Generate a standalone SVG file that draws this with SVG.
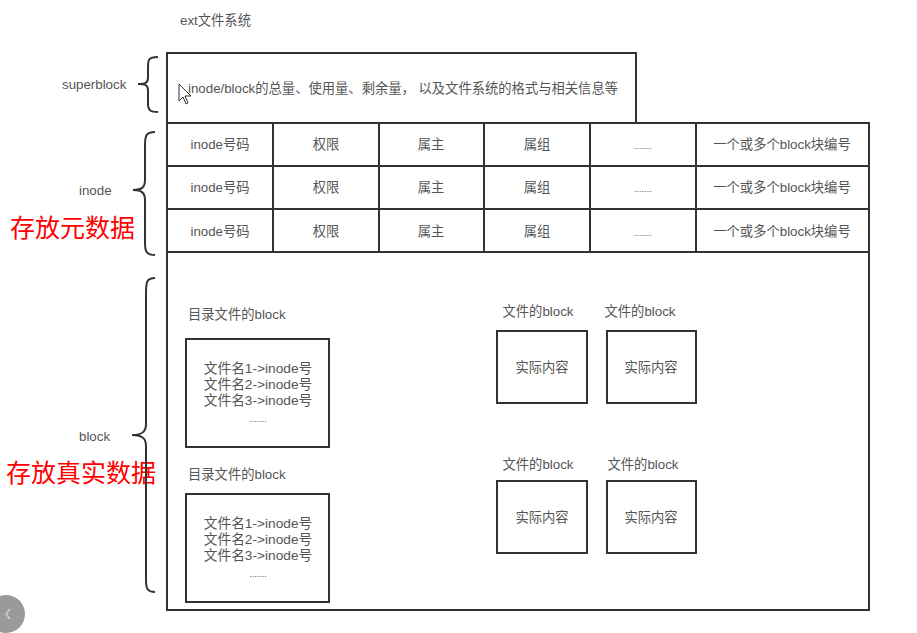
<svg xmlns="http://www.w3.org/2000/svg" width="917" height="633" viewBox="0 0 917 633">
<style>
.t{font-family:"Liberation Sans","Noto Sans CJK SC",sans-serif;font-size:13.3px;fill:#555;}
.c{text-anchor:middle;}
.d{font-size:13.7px;}
.box{fill:#fff;stroke:#333;stroke-width:2;}
.ln{stroke:#333;stroke-width:2;fill:none;}
.br{stroke:#333;stroke-width:2;fill:none;}
.red{font-family:"Noto Sans CJK SC",sans-serif;font-size:25px;fill:#f00;}
</style>
<rect width="917" height="633" fill="#fff"/>
<text class="t" x="180" y="25">ext文件系统</text>

<g id="labels">
<text class="t" x="62" y="89">superblock</text>
<text class="t" x="79" y="195">inode</text>
<text class="t" x="79" y="441">block</text>
<text class="red" x="10" y="237">存放元数据</text>
<text class="red" x="6" y="482">存放真实数据</text>
</g>

<g id="braces">
<path class="br" d="M158,57 C148,57 148,60 148,68 L148,78 C148,83 145,84 138,84 C145,84 148,85 148,90 L148,104 C148,110 150,112 158,112"/>
<path class="br" d="M155,132 C146,132 145,136 145,145 L145,180 C145,187 142,190 133,190 C142,190 145,193 145,200 L145,243 C145,251 146,255 155,255"/>
<path class="br" d="M155,278 C147,278 146,282 146,292 L146,424 C146,431 143,435 132,435 C143,435 146,439 146,446 L146,580 C146,588 147,592 155,592"/>
</g>

<g id="superblock">
<rect class="box" x="167" y="53" width="469" height="70"/>
<text class="t" x="188" y="93">inode/block的总量、使用量、剩余量， 以及文件系统的格式与相关信息等</text>
</g>

<g id="inode-table">
<rect class="box" x="167" y="123" width="702" height="129"/>
<line class="ln" x1="167" y1="166" x2="869" y2="166"/>
<line class="ln" x1="167" y1="209" x2="869" y2="209"/>
<line class="ln" x1="273" y1="123" x2="273" y2="252"/>
<line class="ln" x1="379" y1="123" x2="379" y2="252"/>
<line class="ln" x1="484" y1="123" x2="484" y2="252"/>
<line class="ln" x1="590" y1="123" x2="590" y2="252"/>
<line class="ln" x1="696" y1="123" x2="696" y2="252"/>
<g class="t c">
<text x="220" y="149">inode号码</text><text x="326" y="149">权限</text><text x="431" y="149">属主</text><text x="537" y="149">属组</text><text x="643" y="149" font-size="9">.......</text><text x="782" y="149">一个或多个block块编号</text>
<text x="220" y="192">inode号码</text><text x="326" y="192">权限</text><text x="431" y="192">属主</text><text x="537" y="192">属组</text><text x="643" y="192" font-size="9">.......</text><text x="782" y="192">一个或多个block块编号</text>
<text x="220" y="236">inode号码</text><text x="326" y="236">权限</text><text x="431" y="236">属主</text><text x="537" y="236">属组</text><text x="643" y="236" font-size="9">.......</text><text x="782" y="236">一个或多个block块编号</text>
</g>
</g>

<g id="block-area">
<rect class="box" x="167" y="252" width="702" height="358"/>
</g>

<g id="dir-block-1">
<text class="t" x="188" y="319">目录文件的block</text>
<rect class="box" x="186" y="339" width="143" height="108"/>
<g class="t c d"><text x="258" y="373">文件名1-&gt;inode号</text><text x="258" y="389">文件名2-&gt;inode号</text><text x="258" y="405">文件名3-&gt;inode号</text><text x="258" y="422" font-size="9">.......</text></g>
</g>
<g id="dir-block-2">
<text class="t" x="188" y="479">目录文件的block</text>
<rect class="box" x="186" y="494" width="143" height="108"/>
<g class="t c d"><text x="258" y="528">文件名1-&gt;inode号</text><text x="258" y="544">文件名2-&gt;inode号</text><text x="258" y="560">文件名3-&gt;inode号</text><text x="258" y="577" font-size="9">.......</text></g>
</g>

<g id="file-block-1">
<text class="t c" x="538" y="316">文件的block</text>
<rect class="box" x="497" y="331" width="90" height="72"/>
<text class="t c" x="542" y="372">实际内容</text>
</g>
<g id="file-block-2">
<text class="t c" x="640" y="316">文件的block</text>
<rect class="box" x="607" y="331" width="89" height="72"/>
<text class="t c" x="651" y="372">实际内容</text>
</g>
<g id="file-block-3">
<text class="t c" x="538" y="469">文件的block</text>
<rect class="box" x="497" y="481" width="90" height="72"/>
<text class="t c" x="542" y="522">实际内容</text>
</g>
<g id="file-block-4">
<text class="t c" x="643" y="469">文件的block</text>
<rect class="box" x="607" y="481" width="89" height="72"/>
<text class="t c" x="651" y="522">实际内容</text>
</g>

<g id="ui-artifacts">
<path d="M179,84 L179,101 L183,97 L186,104 L188,103 L185,96 L191,96 Z" fill="#fff" stroke="#333" stroke-width="1"/>
<circle cx="6" cy="614" r="19" fill="#9a9a9a"/>
<path d="M10,609 L6,614 L10,619" fill="none" stroke="#ddd" stroke-width="1.2"/>
</g>
</svg>
